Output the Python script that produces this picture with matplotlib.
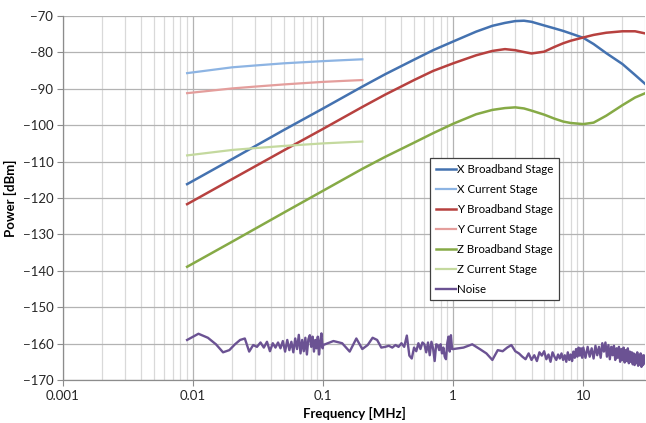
import numpy as np
import matplotlib

matplotlib.use("Agg")
import matplotlib.pyplot as plt
from matplotlib.ticker import LogLocator, FixedLocator, NullFormatter

plt.rcParams["font.family"] = ["Lato", "DejaVu Sans"]

# broadband stages (MHz, dBm)
f_bb = [0.009, 0.02, 0.05, 0.1, 0.2, 0.3, 0.5, 0.7, 1, 1.5, 2, 2.5, 3, 3.5, 4,
        5, 6, 7, 8, 10, 12, 15, 20, 25, 30]
x_bb = [-116.2, -109.3, -101.3, -95.4, -89.4, -86.0, -82.0, -79.4, -77.0, -74.3,
        -72.7, -71.9, -71.4, -71.3, -71.6, -72.6, -73.4, -74.1, -74.8, -76.0,
        -77.7, -80.2, -83.2, -86.2, -88.7]
y_bb = [-121.7, -114.8, -106.9, -101.0, -95.0, -91.6, -87.6, -85.1, -83.0, -80.8,
        -79.6, -79.1, -79.4, -79.9, -80.3, -79.8, -78.5, -77.5, -76.8, -75.9,
        -75.2, -74.6, -74.2, -74.2, -74.8]
z_bb = [-138.9, -132.0, -124.0, -118.0, -112.0, -108.7, -104.8, -102.2, -99.6, -97.0,
        -95.8, -95.3, -95.1, -95.4, -96.0, -97.1, -98.2, -99.0, -99.4, -99.7,
        -99.3, -97.4, -94.5, -92.4, -91.2]

# current stages
f_cur = [0.009, 0.02, 0.03, 0.05, 0.1, 0.15, 0.2]
x_cur = [-85.7, -84.1, -83.6, -83.0, -82.4, -82.1, -81.9]
y_cur = [-91.2, -89.9, -89.4, -88.8, -88.1, -87.8, -87.6]
z_cur = [-108.3, -106.8, -106.3, -105.7, -105.0, -104.7, -104.5]

# noise sweep: linear steps inside each decade
noise_f = np.concatenate([np.linspace(0.009, 0.099, 46), np.linspace(0.1, 0.98, 45),
                          np.linspace(1.0, 9.8, 45), np.linspace(10, 30, 51)])
noise_dbm = [
    -159.0, -157.3, -158.4, -160.2, -162.4, -161.8, -160.2, -159.0, -158.6, -162.2,
    -160.4, -160.9, -159.7, -161.1, -159.5, -162.1, -159.9, -161.1, -159.7, -161.3,
    -159.3, -162.2, -159.0, -161.8, -159.5, -162.4, -158.6, -161.5, -157.6, -162.7,
    -159.0, -162.1, -158.4, -163.0, -158.8, -157.7, -160.9, -158.1, -162.2, -159.0,
    -161.3, -158.1, -163.0, -159.5, -157.2, -161.3,
    -160.4, -159.3, -159.9, -162.2, -158.6, -161.5, -160.4, -158.4, -159.0, -161.1,
    -160.9, -160.6, -161.1, -160.4, -160.9, -159.9, -160.9, -157.8, -163.3, -164.1,
    -161.1, -162.1, -159.9, -161.5, -159.7, -160.2, -162.4, -159.7, -163.2, -159.5,
    -161.3, -164.8, -160.2, -160.4, -161.8, -160.2, -162.7, -161.1, -163.6, -164.3,
    -159.9, -158.1, -162.2, -157.7, -161.5,
    -161.5, -161.1, -160.2, -161.5, -162.7, -164.5, -161.8, -162.1, -161.1, -160.4,
    -162.1, -162.7, -163.6, -164.3, -162.7, -164.5, -163.2, -164.8, -162.4, -163.3,
    -162.1, -164.3, -163.0, -165.0, -162.4, -163.6, -164.5, -163.0, -164.1, -162.7,
    -164.5, -163.2, -165.0, -162.4, -164.5, -163.0, -164.8, -162.2, -163.9, -161.5,
    -163.6, -161.1, -163.3, -161.3, -163.9,
    -161.1, -163.9, -160.9, -163.6, -161.3, -164.1, -160.6, -163.2, -160.9, -163.9,
    -159.9, -162.2, -159.7, -163.6, -160.4, -164.3, -160.9, -163.2, -160.6, -164.5,
    -161.3, -163.9, -160.9, -165.0, -161.5, -164.5, -161.1, -165.2, -161.8, -164.8,
    -161.3, -165.4, -162.2, -165.0, -162.4, -165.7, -162.7, -165.9, -163.0, -165.4,
    -162.4, -166.1, -163.2, -165.7, -162.7, -166.4, -163.3, -165.9, -163.2, -165.4,
    -164.1,
]

series = [
    (f_bb, x_bb, "X Broadband Stage", "#4472b0", 1.8),
    (f_cur, x_cur, "X Current Stage", "#8db4e3", 1.6),
    (f_bb, y_bb, "Y Broadband Stage", "#b7413f", 1.8),
    (f_cur, y_cur, "Y Current Stage", "#e49e9c", 1.6),
    (f_bb, z_bb, "Z Broadband Stage", "#86aa46", 1.8),
    (f_cur, z_cur, "Z Current Stage", "#c4d99e", 1.6),
    (noise_f, noise_dbm, "Noise", "#6b5293", 1.7),
]

fig = plt.figure(figsize=(6.46, 4.23), dpi=100)
ax = fig.add_axes([0.0975, 0.1017, 0.9015, 0.8605])

for f, p, name, col, lw in series:
    ax.plot(f, p, color=col, lw=lw, label=name, solid_joinstyle="round")

ax.set_xscale("log")
ax.set_xlim(0.001, 30)
ax.set_ylim(-170, -70)
ax.xaxis.set_major_locator(FixedLocator([0.001, 0.01, 0.1, 1, 10]))
ax.xaxis.set_minor_locator(LogLocator(base=10, subs=np.arange(2, 10), numticks=20))
ax.xaxis.set_minor_formatter(NullFormatter())
ax.set_xticklabels(["0.001", "0.01", "0.1", "1", "10"])
ax.set_yticks(np.arange(-170, -69, 10))

ax.grid(True, which="major", color="#b3b3b3", lw=0.9)
ax.grid(True, which="minor", axis="x", color="#d9d9d9", lw=0.9)
ax.set_axisbelow(True)

for s in ("top", "right"):
    ax.spines[s].set_visible(False)
for s in ("left", "bottom"):
    ax.spines[s].set_color("#8c8c8c")
    ax.spines[s].set_linewidth(0.9)
ax.tick_params(which="major", direction="out", length=4, color="#8c8c8c",
               labelsize=9.5, labelcolor="#262626", pad=3)
ax.tick_params(which="minor", length=0)

ax.set_xlabel("Frequency [MHz]", fontsize=9.5, fontweight="bold", labelpad=4)
ax.set_ylabel("Power [dBm]", fontsize=9.5, fontweight="bold", labelpad=4)

leg = ax.legend(loc="upper left", bbox_to_anchor=(0.631, 0.610), borderaxespad=0,
                fontsize=8.3, frameon=True, fancybox=False, labelspacing=0.78,
                handlelength=1.7, handletextpad=0.1, borderpad=0.5)
leg.get_frame().set_edgecolor("#404040")
leg.get_frame().set_linewidth(0.9)
leg.get_frame().set_facecolor("white")
leg.get_frame().set_alpha(1)

fig.savefig("out.png", dpi=100, facecolor="white")
